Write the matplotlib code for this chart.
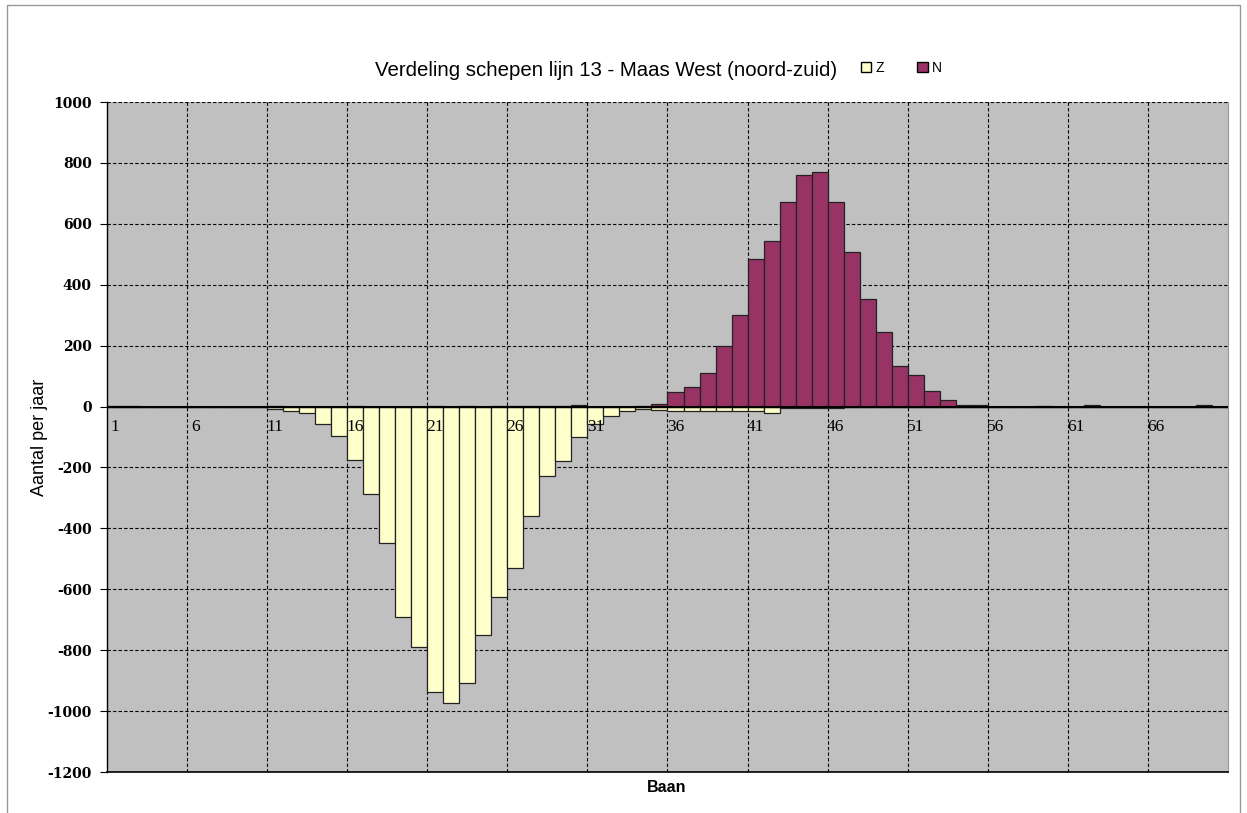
import matplotlib
matplotlib.use("Agg")
import matplotlib.pyplot as plt
from matplotlib.patches import Patch, Rectangle
import matplotlib.transforms as mtransforms
import numpy as np

plt.rcParams["axes.unicode_minus"] = False

# ---- data ----
categories = list(range(1, 71))
n_values = [3, 2, 0, 0, 0, 0, 0, 0, 0, 0,
            2, 0, 0, 0, 0, 2, 0, 0, 0, 0,
            2, 0, 2, 0, 2, 2, 2, 2, 2, 5,
            0, 0, 0, 3, 8, 47, 63, 110, 200, 302,
            486, 545, 672, 760, 770, 673, 509, 352, 245, 133,
            104, 50, 20, 5, 4, 0, 0, 0, 2, 0,
            0, 5, 0, 0, 0, 0, 0, 0, 5, 0]
z_values = [-3, 0, -3, -3, 0, -2, -2, 0, -3, -3,
            -8, -15, -22, -57, -97, -175, -288, -449, -691, -791,
            -936, -974, -909, -751, -624, -531, -359, -228, -178, -101,
            -57, -32, -13, -7, -10, -13, -16, -16, -13, -16,
            -13, -22, -6, -6, -6, -6, 0, 0, 0, 0,
            0, 0, 0, 0, 0, -3, -2, 0, 0, -3,
            0, 0, -2, -2, -2, 0, 0, 0, 0, 0]
category_labels = [str(c) for c in categories if (c - 1) % 5 == 0]
label_positions = [c for c in categories if (c - 1) % 5 == 0]
y_ticks = list(range(-1200, 1001, 200))
series_names = ["Z", "N"]

title = "Verdeling schepen lijn 13 - Maas West (noord-zuid)"

W, H = 1247, 813
fig = plt.figure(figsize=(W / 100, H / 100), dpi=100)
fig.patch.set_facecolor("white")

ax = fig.add_axes([107 / W, 1 - 772 / H, (1228 - 107) / W, (772 - 102) / H])
ax.set_facecolor("#C0C0C0")

z_col = "#FFFFCC"
n_col = "#993366"

ax.bar(categories, z_values, width=1.0, color=z_col, edgecolor="#222222", linewidth=0.9, zorder=3)
ax.bar(categories, n_values, width=1.0, color=n_col, edgecolor="#222222", linewidth=0.9, zorder=3)

ax.set_xlim(0.5, 70.5)
ax.set_ylim(-1200, 1000)

# grid
ax.set_yticks(y_ticks)
ax.set_xticks([5.5 + 5 * k for k in range(13)])
ax.tick_params(axis="x", length=0, labelbottom=False)
ax.grid(True, color="black", linestyle=(0, (3, 2)), linewidth=0.8, zorder=1)
ax.set_axisbelow(True)

ax.axhline(0, color="black", linewidth=1.5, zorder=4)

ax.spines["top"].set_visible(False)
ax.spines["right"].set_color("#999999")
ax.spines["left"].set_color("black")
ax.spines["bottom"].set_color("black")
ax.spines["left"].set_linewidth(1.0)
ax.spines["bottom"].set_linewidth(1.2)

ax.tick_params(axis="y", direction="out", length=5, width=0.8, pad=6)
for lab in ax.get_yticklabels():
    lab.set_fontfamily("DejaVu Serif")
    lab.set_fontweight("bold")
    lab.set_fontsize(10)

# category labels below the zero line
offset = mtransforms.ScaledTranslation(0, -9 / 72, fig.dpi_scale_trans)
for pos, lab in zip(label_positions, category_labels):
    ax.text(pos, 0, lab, ha="center", va="top", fontsize=12.5,
            family="Liberation Serif", transform=ax.transData + offset, zorder=5)

fig.text(40 / W, 1 - 437 / H, "Aantal per jaar", ha="center", va="center",
         rotation=90, fontsize=13, family="Liberation Sans")
fig.text(667 / W, 1 - 787 / H, "Baan", ha="center", va="center", fontsize=11.5,
         family="Liberation Sans", fontweight="bold")

fig.text(606 / W, 1 - 70 / H, title, ha="center", va="center", fontsize=14.7,
         family="Liberation Sans")

handles = [Patch(facecolor=z_col, edgecolor="black", label=series_names[0]),
           Patch(facecolor=n_col, edgecolor="black", label=series_names[1])]
fig.legend(handles=handles, ncol=2, loc="center left",
           bbox_to_anchor=(861 / W, 1 - 68 / H), frameon=False,
           handlelength=0.75, handleheight=0.75, handletextpad=0.3,
           columnspacing=2.4, borderpad=0, borderaxespad=0,
           prop={"family": "Liberation Sans", "size": 10})

# outer chart frame
fig.add_artist(Rectangle((7 / W, -0.01), (1240 - 7) / W, (H - 5) / H + 0.01,
                         transform=fig.transFigure, fill=False,
                         edgecolor="#999999", linewidth=1.0))

fig.savefig("out.png", dpi=100)
